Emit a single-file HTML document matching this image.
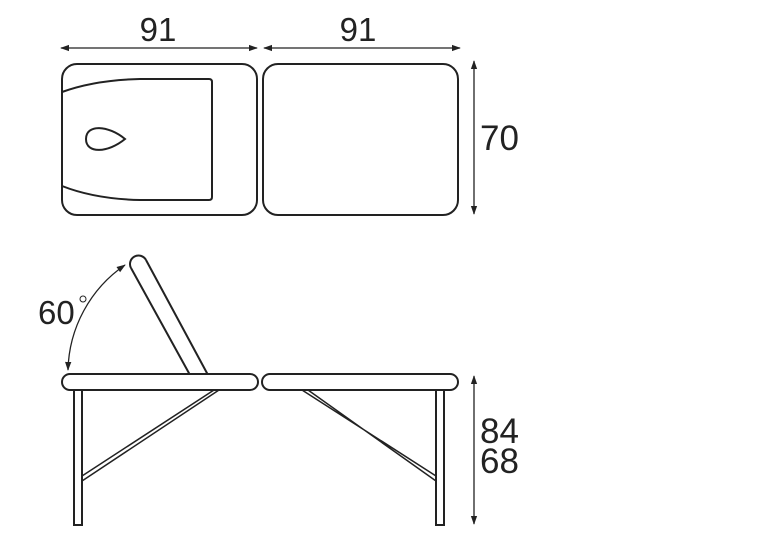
<!DOCTYPE html>
<html><head><style>
html,body{margin:0;padding:0;background:#fff;}
svg{display:block;}
text{font-family:"Liberation Sans",sans-serif;fill:#222;}
</style></head><body>
<svg width="765" height="537" viewBox="0 0 765 537" xmlns="http://www.w3.org/2000/svg">
<defs>
<marker id="a" viewBox="0 0 10 10" refX="9" refY="5" markerWidth="7" markerHeight="7" orient="auto-start-reverse"><path d="M0,1.5 L10,5 L0,8.5 z" fill="#222"/></marker>
</defs>
<g stroke="#222" fill="none" stroke-width="1.3">
<line x1="61" y1="48" x2="257" y2="48" marker-start="url(#a)" marker-end="url(#a)"/>
<line x1="264" y1="48" x2="460" y2="48" marker-start="url(#a)" marker-end="url(#a)"/>
<line x1="474" y1="61" x2="474" y2="214" marker-start="url(#a)" marker-end="url(#a)"/>
<line x1="474" y1="376" x2="474" y2="524" marker-start="url(#a)" marker-end="url(#a)"/>
<path d="M68,370 A131,131 0 0 1 125,265" marker-start="url(#a)" marker-end="url(#a)"/>
</g>
<g stroke="#222" fill="none" stroke-width="2">
<rect x="62" y="64" width="195" height="151" rx="15"/>
<rect x="263" y="64" width="195" height="151" rx="15"/>
<path d="M62,92 Q95,80 140,79 L209,79 Q212,79 212,82 L212,197 Q212,200 209,200 L140,200 Q95,199 62,186"/>
<path d="M86,139 C86,124 108,125 125,139 C108,153 86,154 86,139 Z"/>
<path d="M131,268 L190,375 M146,260 L208,375"/>
<path d="M131,268 A8.5,8.5 0 0 1 146,260"/>
<rect x="62" y="374" width="196" height="16" rx="8" fill="#fff"/>
<rect x="262" y="374" width="196" height="16" rx="8" fill="#fff"/>
<rect x="74" y="390" width="8" height="135" fill="#fff"/>
<rect x="436" y="390" width="8" height="135" fill="#fff"/>
</g>
<g stroke="#222" fill="none" stroke-width="1.5">
<path d="M82,476 L214,390 M82,481 L219,390"/>
<path d="M302,390 L436,476 M308,390 L436,481"/>
</g>
<text x="158" y="41" font-size="33" text-anchor="middle">91</text>
<text x="358" y="41" font-size="33" text-anchor="middle">91</text>
<text x="480" y="150" font-size="35">70</text>
<text x="480" y="443" font-size="35">84</text>
<text x="480" y="473" font-size="35">68</text>
<text x="38" y="324" font-size="33">60</text>
<circle cx="83" cy="299" r="3" stroke="#222" stroke-width="1" fill="none"/>
</svg>
</body></html>
